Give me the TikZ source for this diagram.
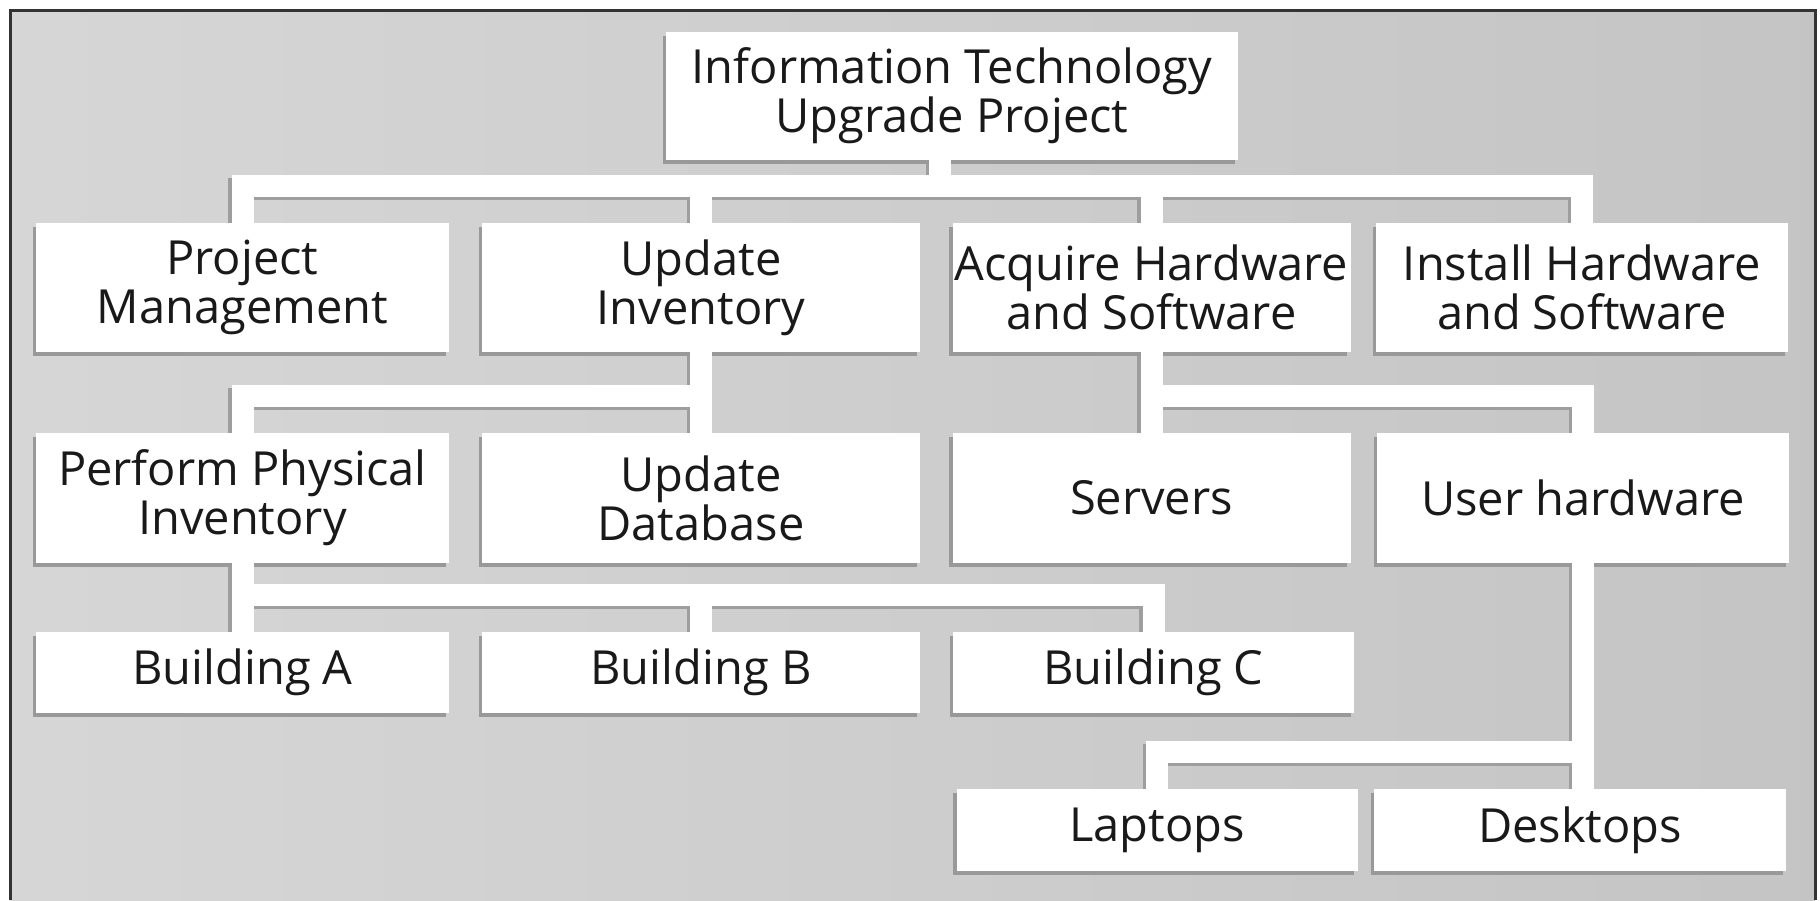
\documentclass[tikz,border=0pt]{standalone}
\usepackage{fontspec}
\newfontfamily\boxfont{Open Sans}
\usetikzlibrary{shadows}
\pgfdeclarelayer{back}
\pgfdeclarelayer{shade}
\pgfsetlayers{back,shade,main}
\newcommand\branch[1]{%
  \begin{pgfonlayer}{shade}\draw[branchshade] #1;\end{pgfonlayer}
  \draw[branchline] #1;}

\begin{document}
\begin{tikzpicture}
[x=0.5pt, y=-0.5pt,
 box/.style={fill=white, inner sep=0pt, align=center, text=black!90,
   font=\boxfont\fontsize{23.5}{24.5}\selectfont,
   drop shadow={shadow xshift=-1.75pt, shadow yshift=-1.75pt, fill=black!40, opacity=1}},
 branchline/.style={line width=11pt, draw=white},
 branchshade/.style={line width=11pt, draw=black!38,
   transform canvas={shift={(-1.75pt,-1.75pt)}}}]
\useasboundingbox (0,0) rectangle (1820,900);
\begin{pgfonlayer}{back}
\fill[white] (0,0) rectangle (1820,900);
\shade[left color=black!16, right color=black!23] (10,10) rectangle (1815,900);
\draw[black!80, line width=1.5pt] (10,900) -- (10,10) -- (1815,10) -- (1815,900);
\end{pgfonlayer}

\node[box, minimum width=286pt, minimum height=64pt] (root) at (952,96) {Information Technology\\Upgrade Project};

\node[box, minimum width=206.5pt, minimum height=64.5pt] (pm) at (242.5,287.5) {Project\\Management};
\node[box, minimum width=219pt, minimum height=64.5pt] (ui) at (701,287.5) {Update\\Inventory};
\node[box, minimum width=199pt, minimum height=64.5pt] (ahs) at (1151.5,287.5) {Acquire Hardware\\and Software};
\node[box, minimum width=206pt, minimum height=64.5pt] (ihs) at (1582,287.5) {Install Hardware\\and Software};

\node[box, minimum width=206.5pt, minimum height=65pt] (ppi) at (242.5,498) {Perform Physical\\Inventory};
\node[box, minimum width=219pt, minimum height=65pt] (udb) at (701,498) {Update\\Database};
\node[box, minimum width=199pt, minimum height=65pt] (srv) at (1151.5,498) {Servers};
\node[box, minimum width=206pt, minimum height=65pt] (uhw) at (1583,498) {User hardware};

\node[box, minimum width=206.5pt, minimum height=40.5pt] (bla) at (242.5,672.5) {Building A};
\node[box, minimum width=219pt, minimum height=40.5pt] (blb) at (701,672.5) {Building B};
\node[box, minimum width=200.5pt, minimum height=40.5pt] (blc) at (1153.5,672.5) {Building C};

\node[box, minimum width=200.5pt, minimum height=41pt] (lap) at (1157,830) {Laptops};
\node[box, minimum width=206pt, minimum height=41pt] (dsk) at (1580,830) {Desktops};

\coordinate (bar1) at ([yshift=18.5pt]pm.north);
\coordinate (rootfoot) at ([xshift=-6pt]root.south);
\branch{(pm.north) -- (bar1) -| (ihs.north)}
\branch{(rootfoot) -- (rootfoot |- bar1)}
\branch{(ui.north) -- (ui.north |- bar1)}
\branch{(ahs.north) -- (ahs.north |- bar1)}

\coordinate (bar2) at ([yshift=18.5pt]ppi.north);
\coordinate (bar2b) at (ahs.south |- bar2);
\branch{(ui.south) -- (ui.south |- udb.north)}
\branch{(ppi.north) -- (bar2) -- (bar2 -| ui.south)}
\branch{(ahs.south) -- (ahs.south |- srv.north)}
\branch{(bar2b) -| (uhw.north)}

\coordinate (bar3) at ([yshift=18.5pt]bla.north);
\branch{(ppi.south) -- (ppi.south |- bla.north)}
\branch{(bar3) -| (blc.north)}
\branch{(blb.north) -- (blb.north |- bar3)}

\coordinate (bar4) at ([yshift=18.5pt]lap.north);
\branch{(uhw.south) -- (uhw.south |- dsk.north)}
\branch{(lap.north) -- (bar4) -- (bar4 -| uhw.south)}
\end{tikzpicture}
\end{document}
